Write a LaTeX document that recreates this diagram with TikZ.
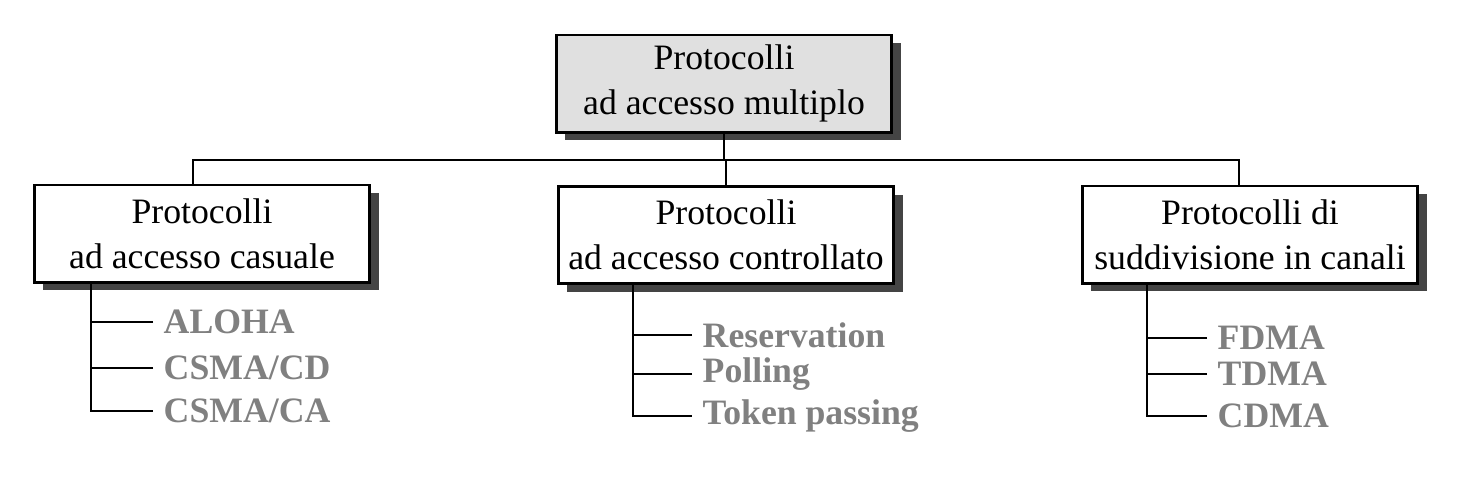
\documentclass[tikz,border=0pt]{standalone}
\usepackage{fontspec}
\setmainfont{Liberation Serif}
\usetikzlibrary{shadows}
\definecolor{shadowgray}{RGB}{68,68,68}
\definecolor{boxgray}{RGB}{224,224,224}
\definecolor{itemgray}{RGB}{128,128,128}
\begin{document}
\begin{tikzpicture}[x=0.28pt, y=-0.28pt,
  proto/.style={shape=rectangle, draw=black, thick, fill=white, align=center,
    minimum width=94pt, minimum height=27.2pt, inner sep=1pt,
    font=\fontsize{10}{12.6}\selectfont,
    drop shadow={shadow xshift=2.6pt, shadow yshift=-2.3pt, fill=shadowgray, opacity=1}},
  item/.style={anchor=west, text=itemgray, inner xsep=2.8pt, inner ysep=0pt,
    font=\fontsize{10}{12}\selectfont\bfseries},
  link/.style={draw=black, semithick},
  stem/.style={draw=black, thick}]
\useasboundingbox (0,0) rectangle (1463,477);
\node[proto, fill=boxgray] (multi) at (724,83.5) {Protocolli\\ad accesso multiplo};
\node[proto] (casuale) at (202,233.5) {Protocolli\\ad accesso casuale};
\node[proto] (controllato) at (726,235) {Protocolli\\ad accesso controllato};
\node[proto] (canali) at (1250,234.5) {Protocolli di\\suddivisione in canali};
\coordinate (bus) at (0,160);
% random access
\node[item] (aloha) at (153,322) {ALOHA};
\node[item] (cd) at (153,368) {CSMA/CD};
\node[item] (ca) at (153,411) {CSMA/CA};
% controlled access
\node[item] (res) at (692,335) {Reservation};
\node[item] (poll) at (692,374) {Polling};
\node[item] (token) at (692,416) {Token passing};
% channelization
\node[item] (fdma) at (1207,338) {FDMA};
\node[item] (tdma) at (1207,374) {TDMA};
\node[item] (cdma) at (1207,416) {CDMA};
\coordinate (s1) at (91,0);
\coordinate (s2) at (633,0);
\coordinate (s3) at (1147,0);
\path[link] (multi.south) edge (multi.south |- bus);
\draw[link] (casuale.north -| 193,0) |- (bus -| 193,0) -- (bus -| 1239,0) -- (canali.north -| 1239,0);
\path[link] (controllato.north) edge (controllato.north |- bus);
\draw[stem] (casuale.south -| s1) |- (ca.west);
\path[stem] (aloha.west) edge (aloha.west -| s1);
\path[stem] (cd.west) edge (cd.west -| s1);
\draw[stem] (controllato.south -| s2) |- (token.west);
\path[stem] (res.west) edge (res.west -| s2);
\path[stem] (poll.west) edge (poll.west -| s2);
\draw[stem] (canali.south -| s3) |- (cdma.west);
\path[stem] (fdma.west) edge (fdma.west -| s3);
\path[stem] (tdma.west) edge (tdma.west -| s3);
\end{tikzpicture}
\end{document}
